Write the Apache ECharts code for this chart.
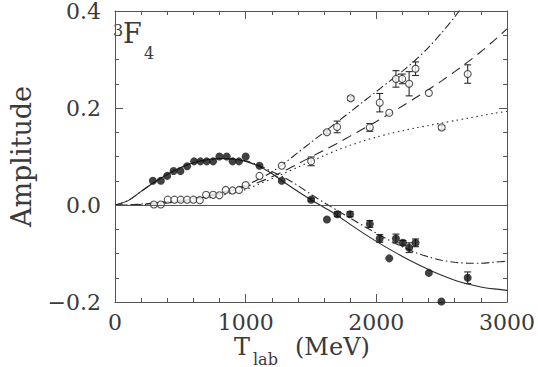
<!DOCTYPE html>
<html>
<head>
<meta charset="utf-8">
<script src="https://cdn.jsdelivr.net/npm/echarts@6/dist/echarts.min.js"></script>
<style>
  html, body { margin: 0; padding: 0; background: #fff; }
  #chart { width: 538px; height: 367px; }
</style>
</head>
<body>
<div id="chart"></div>
<script>
// energies for the model curves (MeV)
var curveX = [0,100,200,300,400,500,600,700,800,900,1000,1100,1200,1300,1400,1500,
              1600,1700,1800,1900,2000,2100,2200,2300,2400,2500,2600,2700,2800,2900,3000];
// real part curves
var solidY = [0,0.009,0.028,0.047,0.063,0.077,0.087,0.093,0.096,0.095,0.090,0.080,0.065,0.046,0.028,0.011,
              -0.005,-0.021,-0.040,-0.058,-0.075,-0.091,-0.106,-0.120,-0.133,-0.145,-0.155,-0.163,-0.169,-0.173,-0.176];
var dashDotLowY = [0,0.009,0.028,0.047,0.063,0.077,0.087,0.093,0.096,0.095,0.091,0.082,0.069,0.056,0.040,0.022,
              0.005,-0.011,-0.027,-0.043,-0.058,-0.073,-0.086,-0.098,-0.107,-0.114,-0.118,-0.120,-0.120,-0.118,-0.116];
// imaginary part curves
var dashDotUpY = [0,0.000,0.002,0.004,0.007,0.010,0.014,0.019,0.025,0.032,0.041,0.053,0.068,0.087,0.108,0.129,
              0.150,0.171,0.192,0.213,0.234,0.255,0.276,0.299,0.325,0.355,0.388,0.424];
var dashedY = [0,0,0.001,0.003,0.005,0.008,0.012,0.017,0.023,0.030,0.038,0.047,0.058,0.071,0.085,0.099,
              0.113,0.127,0.142,0.157,0.172,0.188,0.204,0.221,0.238,0.256,0.275,0.295,0.316,0.339,0.363];
var dottedY = [0,0,0.001,0.002,0.004,0.007,0.010,0.014,0.019,0.025,0.032,0.043,0.054,0.066,0.078,0.090,
              0.102,0.113,0.123,0.132,0.140,0.147,0.153,0.159,0.164,0.169,0.174,0.179,0.184,0.189,0.193];

// filled circles (real part)
var filledX = [290,351,399,448,501,552,605,654,702,751,799,855,900,949,1000,1106,1276,
               1501,1622,1702,1799,1950,2026,2099,2150,2203,2251,2300,2402,2498,2699];
var filledY = [0.050,0.050,0.060,0.070,0.070,0.080,0.090,0.090,0.090,0.090,0.100,0.100,0.090,0.090,0.100,0.081,0.050,
               0.011,-0.030,-0.019,-0.019,-0.039,-0.069,-0.110,-0.069,-0.078,-0.088,-0.078,-0.140,-0.199,-0.150];
var filledErr = [0,0,0,0,0,0,0,0,0,0,0,0,0,0,0,0,0,
               0.003,0,0.005,0.005,0.007,0.008,0,0.009,0.005,0.010,0.008,0,0,0.012];

// open circles (imaginary part)
var openX = [298,351,404,455,503,552,600,649,697,751,799,847,900,949,1000,1106,1276,
             1501,1622,1700,1804,1950,2026,2099,2150,2198,2251,2300,2402,2500,2699];
var openY = [0.001,0.001,0.011,0.011,0.011,0.011,0.011,0.010,0.021,0.021,0.020,0.031,0.030,0.031,0.041,0.060,0.081,
             0.090,0.150,0.161,0.220,0.160,0.211,0.190,0.260,0.260,0.250,0.281,0.231,0.160,0.270];
var openErr = [0,0,0,0,0,0,0,0,0,0,0,0,0,0,0,0,0,
             0.009,0.003,0.012,0.004,0.008,0.019,0,0.017,0.010,0.025,0.014,0,0.004,0.019];

var xTicks = [0,1000,2000,3000];
var yTicks = [-0.2,0.0,0.2,0.4];

var ink = '#2a2a2a';
var textInk = '#3a3a3a';
var axisInk = '#555';
var serif = 'DejaVu Serif';

function pairs(xs, ys) {
    var out = [];
    for (var i = 0; i < ys.length; i++) {
        out.push([xs[i], ys[i]]);
    }
    return out;
}
function bars(xs, ys, es) {
    var out = [];
    for (var i = 0; i < ys.length; i++) {
        if (es[i] > 0) out.push([xs[i], ys[i] - es[i], ys[i] + es[i]]);
    }
    return out;
}

function curve(name, ys, dash) {
    return {
        name: name,
        type: 'line',
        data: pairs(curveX, ys),
        smooth: 0.3,
        symbol: 'none',
        clip: true,
        z: 2,
        lineStyle: { color: ink, width: 1.1, type: dash }
    };
}

function errorSeries(data) {
    return {
        type: 'custom',
        data: data,
        z: 3,
        renderItem: function (params, api) {
            var p1 = api.coord([api.value(0), api.value(1)]);
            var p2 = api.coord([api.value(0), api.value(2)]);
            var cap = 3.5;
            var st = { stroke: ink, lineWidth: 1.1 };
            return {
                type: 'group',
                children: [
                    { type: 'line', shape: { x1: p1[0], y1: p1[1], x2: p2[0], y2: p2[1] }, style: st },
                    { type: 'line', shape: { x1: p1[0] - cap, y1: p1[1], x2: p1[0] + cap, y2: p1[1] }, style: st },
                    { type: 'line', shape: { x1: p2[0] - cap, y1: p2[1], x2: p2[0] + cap, y2: p2[1] }, style: st }
                ]
            };
        }
    };
}

// one axis of the frame, ticks pointing inward
function frameAxis(base, pos, minorSplit, label) {
    return Object.assign({}, base, {
        position: pos,
        axisLine: { show: true, onZero: false, lineStyle: { color: axisInk, width: 1 } },
        axisTick: { show: true, inside: true, length: 8, lineStyle: { color: axisInk } },
        minorTick: { show: true, splitNumber: minorSplit, length: 4, lineStyle: { color: axisInk } },
        splitLine: { show: false },
        minorSplitLine: { show: false },
        axisLabel: label || { show: false }
    });
}

var xBase = { type: 'value', min: xTicks[0], max: xTicks[xTicks.length - 1], interval: 1000 };
var yBase = { type: 'value', min: yTicks[0], max: yTicks[yTicks.length - 1], interval: 0.2 };

var yLeft = frameAxis(yBase, 'left', 4, {
    show: true, margin: 14, color: textInk, fontFamily: serif, fontSize: 22,
    formatter: function (v) {
        var s = Math.abs(v).toFixed(1);
        return v < -1e-9 ? '\u2212' + s : s;
    }
});
yLeft.name = 'Amplitude';
yLeft.nameLocation = 'middle';
yLeft.nameGap = 80;
yLeft.nameTextStyle = { color: textInk, fontFamily: serif, fontSize: 27 };

var option = {
    animation: false,
    backgroundColor: '#fff',
    grid: { left: 100, right: 25, top: 7, bottom: 65 },
    xAxis: [
        frameAxis(xBase, 'bottom', 5, {
            show: true, margin: 9, color: textInk, fontFamily: serif, fontSize: 22,
            formatter: function (v) { return String(v); }
        }),
        frameAxis(xBase, 'top', 5)
    ],
    yAxis: [
        yLeft,
        frameAxis(yBase, 'right', 4)
    ],
    graphic: [
        { type: 'text', left: 113, top: 22, style: { text: '3', font: '16px "DejaVu Serif"', fill: textInk } },
        { type: 'text', left: 123, top: 20, style: { text: 'F', font: '27px "DejaVu Serif"', fill: textInk } },
        { type: 'text', left: 144, top: 45, style: { text: '4', font: '16px "DejaVu Serif"', fill: textInk } },
        { type: 'text', left: 234, top: 335, style: { text: 'T', font: '24px "DejaVu Serif"', fill: textInk } },
        { type: 'text', left: 253, top: 351, style: { text: 'lab', font: '16px "DejaVu Serif"', fill: textInk } },
        { type: 'text', left: 295, top: 335, style: { text: '(MeV)', font: '24px "DejaVu Serif"', fill: textInk } }
    ],
    series: [
        Object.assign(curve('solid', solidY, 'solid'), {
            markLine: {
                silent: true,
                symbol: 'none',
                label: { show: false },
                lineStyle: { color: axisInk, width: 1, type: 'solid' },
                data: [{ yAxis: 0 }]
            }
        }),
        curve('dashdot-re', dashDotLowY, [8, 3, 1.5, 3]),
        curve('dashdot-im', dashDotUpY, [8, 3, 1.5, 3]),
        curve('dashed-im', dashedY, [10, 6]),
        curve('dotted-im', dottedY, [1.5, 3.5]),
        errorSeries(bars(filledX, filledY, filledErr)),
        errorSeries(bars(openX, openY, openErr)),
        {
            name: 'filled',
            type: 'scatter',
            data: pairs(filledX, filledY),
            symbol: 'circle',
            symbolSize: 8,
            z: 4,
            itemStyle: { color: '#111', borderWidth: 0 }
        },
        {
            name: 'open',
            type: 'scatter',
            data: pairs(openX, openY),
            symbol: 'circle',
            symbolSize: 7,
            z: 4,
            itemStyle: { color: '#fff', borderColor: ink, borderWidth: 1.1 }
        }
    ]
};

var chart = echarts.init(document.getElementById('chart'), null, { renderer: 'svg' });
chart.setOption(option);
</script>
</body>
</html>
